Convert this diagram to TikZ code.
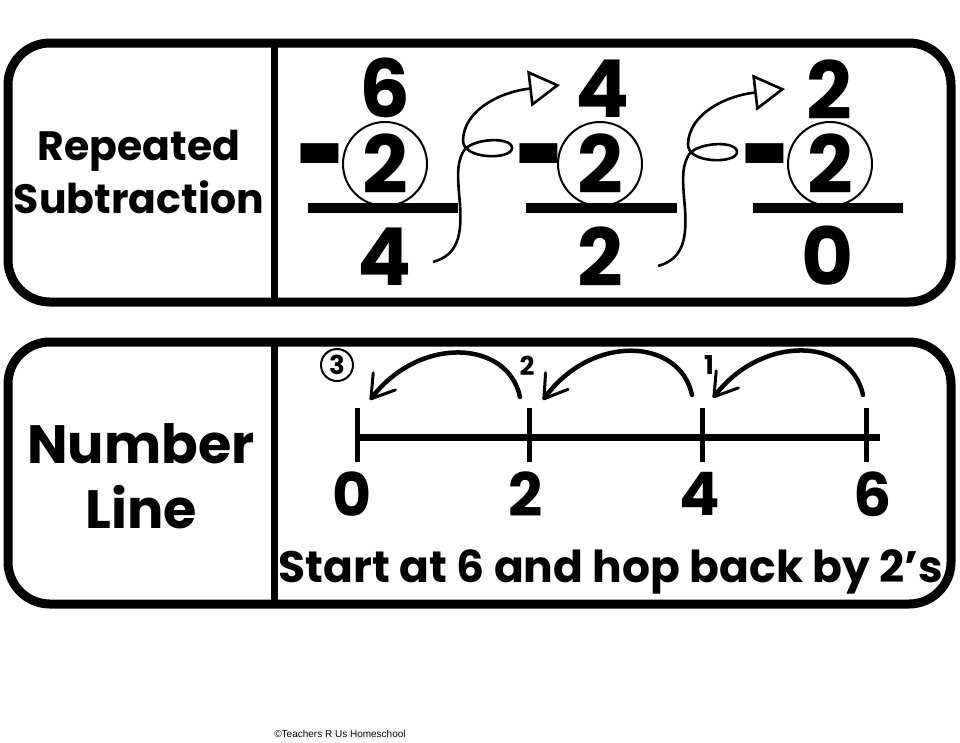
\documentclass[tikz,border=0pt]{standalone}
\usepackage{fontspec}
\setmainfont{Poppins}
\newfontfamily\creditfont{Liberation Sans}
\usetikzlibrary{arrows.meta, positioning}

\tikzset{
  panel/.style={draw, line width=9pt, rounded corners=42pt},
  divider/.style={line width=7pt},
  sidelabel/.style={align=center, inner sep=0pt},
  bigdigit/.style={font=\fontsize{80}{80}\selectfont\bfseries, inner sep=0pt},
  ringdigit/.style={bigdigit, circle, draw, line width=2pt, minimum size=84pt},
  minussign/.style={font=\fontsize{82}{82}\selectfont\bfseries, inner sep=0pt, anchor=base},
  sumbar/.style={line width=10pt},
  curl/.style={line width=2.6pt, -{Triangle[open, length=31pt, width=36pt]}},
  numaxis/.style={line width=7pt},
  tickmark/.style={line width=5pt},
  linedigit/.style={font=\fontsize{60}{60}\selectfont\bfseries, inner sep=0pt},
  hop/.style={line width=4.5pt, line cap=round, -{Straight Barb[length=22pt, width=28pt, line width=3pt, round]}},
  hopcount/.style={font=\fontsize{26}{26}\selectfont\bfseries, inner sep=0pt}
}

\begin{document}
\begin{tikzpicture}[x=1pt, y=-1pt]
  \path[fill=white, use as bounding box] (0,0) rectangle (960,742);

  % two panels with their dividers
  \draw[panel] (8,43) rectangle (951,302);
  \draw[divider] (274,43) -- (274,302);
  \draw[panel] (8,342) rectangle (951,604);
  \draw[divider] (274,342) -- (274,604);

  \node[sidelabel, font=\fontsize{41}{53}\selectfont\bfseries] (repsub) at (139,172) {Repeated\\Subtraction};
  \node[sidelabel, font=\fontsize{54}{65}\selectfont\bfseries] (numline) at (141,476) {Number\\Line};

  % repeated subtraction columns
  \node[bigdigit] (top1) at (385,88) {6};
  \node[ringdigit] (ring1) at (385,164) {2};
  \node[minussign] (minus1) at (321,202) {\scalebox{1.05}[1.7]{-}};
  \draw[sumbar] (308,208) -- (458,208);
  \node[bigdigit] (diff1) at (385,257) {4};

  \node[bigdigit] (top2) at (603,89) {4};
  \node[ringdigit] (ring2) at (600,164) {2};
  \node[minussign] (minus2) at (540,202) {\scalebox{1.05}[1.7]{-}};
  \draw[sumbar] (526,208) -- (677,208);
  \node[bigdigit] (diff2) at (600,257) {2};

  \node[bigdigit] (top3) at (829,90) {2};
  \node[ringdigit] (ring3) at (830,164) {2};
  \node[minussign] (minus3) at (766,202) {\scalebox{1.05}[1.7]{-}};
  \draw[sumbar] (753,208) -- (903,208);
  \node[bigdigit] (diff3) at (828,256) {0};

  % curly carry-over arrows
  \coordinate (curl1-from) at (433,262);
  \coordinate (curl1-to) at (560,85);
  \draw[curl] (curl1-from) .. controls (458,255) and (462,235) .. (460,205)
    .. controls (458,180) and (456,165) .. (463,152)
    .. controls (470,138) and (512,136) .. (512,148)
    .. controls (512,160) and (462,160) .. (463,140)
    .. controls (464,110) and (500,92) .. (curl1-to);
  \coordinate (curl2-from) at (658,266);
  \coordinate (curl2-to) at (785,89);
  \draw[curl] (curl2-from) .. controls (683,259) and (687,239) .. (685,209)
    .. controls (683,184) and (681,169) .. (688,156)
    .. controls (695,142) and (737,140) .. (737,152)
    .. controls (737,164) and (687,164) .. (688,144)
    .. controls (689,114) and (725,96) .. (curl2-to);

  % number line
  \coordinate (t0) at (357,437);
  \coordinate (t2) at (529,437);
  \coordinate (t4) at (702,437);
  \coordinate (t6) at (866,437);
  \coordinate (axisend) at (880,437);
  \draw[numaxis] (t0) -- (axisend);
  \foreach \t in {t0,t2,t4,t6}
    \draw[tickmark] ([yshift=29pt]\t) -- ([yshift=-25pt]\t);
  \node[linedigit] (n0) at (352,494) {0};
  \node[linedigit] (n2) at (526,494) {2};
  \node[linedigit] (n4) at (700,494) {4};
  \node[linedigit] (n6) at (873,494) {6};

  % hops back by two
  \coordinate (hop1-from) at (863,395);
  \coordinate (hop1-to) at (713,398);
  \coordinate (hop2-from) at (692,395);
  \coordinate (hop2-to) at (543,400);
  \coordinate (hop3-from) at (520,397);
  \coordinate (hop3-to) at (370,400);
  \draw[hop] (hop1-from) .. controls (851,338) and (763,333) .. (hop1-to);
  \draw[hop] (hop2-from) .. controls (680,338) and (592,333) .. (hop2-to);
  \draw[hop] (hop3-from) .. controls (508,340) and (420,335) .. (hop3-to);
  \node[hopcount] (count1) at (709,365) {1};
  \node[hopcount] (count2) at (527,366) {2};
  \node[hopcount, circle, draw, line width=2pt, minimum size=32pt] (count3) at (337,365) {3};

  \node[font=\fontsize{44}{44}\selectfont\bfseries, anchor=base, inner sep=0pt] (hint) at (611,582) {Start at 6 and hop back by 2's};

  \node[font=\creditfont\fontsize{10}{10}\selectfont, anchor=base, inner sep=0pt] (credit) at (340,737) {©Teachers R Us Homeschool};
\end{tikzpicture}
\end{document}
